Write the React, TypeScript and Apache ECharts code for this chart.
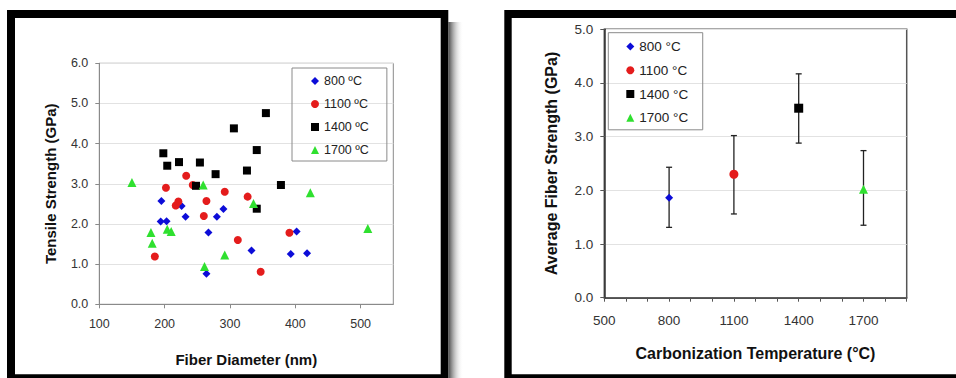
import React, { useEffect, useRef } from 'react';
import * as echarts from 'echarts';

const FONT = '"Liberation Sans", Arial, Helvetica, sans-serif';

// ---- Left chart: tensile strength vs fiber diameter ----
const namesLeft = ['800 ºC', '1100 ºC', '1400 ºC', '1700 ºC'];
const pts800: [number, number][] = [
  [195, 2.57], [194, 2.06], [203, 2.07], [226, 2.45], [232, 2.18], [267, 1.79], [264, 0.76],
  [280, 2.18], [290, 2.37], [333, 1.34], [393, 1.25], [402, 1.81], [418, 1.27],
];
const pts1100: [number, number][] = [
  [185, 1.19], [202, 2.9], [217, 2.46], [221, 2.56], [233, 3.2], [243, 2.97], [260, 2.2],
  [264, 2.57], [292, 2.8], [312, 1.6], [327, 2.68], [347, 0.81], [391, 1.78],
];
const pts1400: [number, number][] = [
  [198, 3.76], [204, 3.45], [222, 3.54], [248, 2.95], [254, 3.53], [278, 3.24], [306, 4.38],
  [326, 3.33], [341, 3.84], [341, 2.38], [355, 4.76], [378, 2.97],
];
const pts1700: [number, number][] = [
  [150, 3.03], [179, 1.79], [181, 1.52], [204, 1.87], [210, 1.81], [259, 2.97], [261, 0.94],
  [292, 1.23], [336, 2.51], [423, 2.78], [511, 1.89],
];
const xTicksLeft = [100, 200, 300, 400, 500];

// ---- Right chart: average strength vs carbonization temperature ----
const namesRight = ['800 °C', '1100 °C', '1400 °C', '1700 °C'];
const temps = [800, 1100, 1400, 1700];
const means = [1.86, 2.3, 3.53, 2.02];
const lows = [1.31, 1.56, 2.88, 1.35];
const highs = [2.43, 3.02, 4.17, 2.74];
const xLabelsRight = [500, 800, 1100, 1400, 1700];

const colors = ['#0c0cd8', '#e41c1c', '#000000', '#2fe02f'];
const symbols = ['diamond', 'circle', 'rect', 'triangle'];
const symbolSizesL = [8, 8, 8, 9];
const symbolSizesR = [8, 9, 9, 9];

export default function App() {
  const ref = useRef<HTMLDivElement>(null);

  useEffect(() => {
    if (!ref.current) return;
    const chart = echarts.init(ref.current, undefined, { renderer: 'svg' });
    const leftData = [pts800, pts1100, pts1400, pts1700];

    const option: any = {
      animation: false,
      backgroundColor: '#ffffff',
      textStyle: { fontFamily: FONT },
      graphic: {
        elements: [
          { type: 'rect', z: -10, silent: true, shape: { x: 7, y: 10, width: 441.3, height: 368 }, style: { fill: '#000' } },
          {
            type: 'rect', z: -10, silent: true, shape: { x: 448.3, y: 22, width: 15, height: 356 },
            style: {
              fill: new echarts.graphic.LinearGradient(0, 0, 1, 0, [
                { offset: 0, color: 'rgba(70,70,70,1)' },
                { offset: 1, color: 'rgba(255,255,255,0)' },
              ]),
            },
          },
          { type: 'rect', z: -9, silent: true, shape: { x: 15, y: 18, width: 425.7, height: 356.3 }, style: { fill: '#fff' } },
          { type: 'rect', z: -10, silent: true, shape: { x: 504.3, y: 10, width: 451.7, height: 368 }, style: { fill: '#000' } },
          { type: 'rect', z: -9, silent: true, shape: { x: 511.7, y: 18, width: 444.3, height: 356.3 }, style: { fill: '#fff' } },
        ],
      },
      grid: [
        { left: 99.3, top: 63.3, width: 294, height: 241, show: true, borderColor: '#8a8a8a', borderWidth: 1, backgroundColor: 'transparent' },
        { left: 604.3, top: 29.3, width: 302.4, height: 268.4, show: true, borderColor: '#555', borderWidth: 1.5, backgroundColor: 'transparent' },
      ],
      legend: [
        {
          data: namesLeft,
          orient: 'vertical',
          left: 292,
          top: 68,
          padding: [6, 18, 4, 19],
          borderColor: '#8a8a8a',
          borderWidth: 1,
          itemWidth: 8,
          itemHeight: 8,
          itemGap: 9,
          selectedMode: false,
          textStyle: { fontSize: 12.5, lineHeight: 14, color: '#222', fontFamily: FONT },
        },
        {
          data: namesRight,
          orient: 'vertical',
          left: 608.3,
          top: 32.7,
          padding: [6.2, 14.5, 4.5, 18],
          borderColor: '#8a8a8a',
          borderWidth: 1,
          itemWidth: 8,
          itemHeight: 8,
          itemGap: 8.8,
          selectedMode: false,
          textStyle: { fontSize: 13.5, lineHeight: 15, color: '#222', fontFamily: FONT },
        },
      ],
      xAxis: [
        {
          type: 'value',
          gridIndex: 0,
          min: 100,
          max: 550,
          interval: 100,
          axisLine: { show: true, lineStyle: { color: '#8a8a8a', width: 1 } },
          axisTick: { show: true, length: 4, lineStyle: { color: '#8a8a8a' }, customValues: xTicksLeft },
          axisLabel: { fontSize: 12.5, color: '#333', margin: 13, fontFamily: FONT, customValues: xTicksLeft },
          splitLine: { show: false },
          name: 'Fiber Diameter (nm)',
          nameLocation: 'middle',
          nameGap: 48,
          nameTextStyle: { fontSize: 15, fontWeight: 'bold', color: '#111', fontFamily: FONT },
        },
        {
          type: 'value',
          gridIndex: 1,
          min: 500,
          max: 1900,
          interval: 100,
          axisLine: { show: true, lineStyle: { color: '#333', width: 1.5 } },
          axisTick: { show: true, length: 4, lineStyle: { color: '#555' } },
          axisLabel: {
            fontSize: 13.5,
            color: '#333',
            margin: 16,
            fontFamily: FONT,
            formatter: (v: number) => (xLabelsRight.indexOf(v) >= 0 ? String(v) : ''),
          },
          splitLine: { show: false },
          name: 'Carbonization Temperature (°C)',
          nameLocation: 'middle',
          nameGap: 48,
          nameTextStyle: { fontSize: 16, fontWeight: 'bold', color: '#111', fontFamily: FONT },
        },
      ],
      yAxis: [
        {
          type: 'value',
          gridIndex: 0,
          min: 0,
          max: 6,
          interval: 1,
          axisLine: { show: true, lineStyle: { color: '#8a8a8a', width: 1 } },
          axisTick: { show: true, length: 4, lineStyle: { color: '#8a8a8a' } },
          axisLabel: { fontSize: 12.5, color: '#333', margin: 11, fontFamily: FONT, formatter: (v: number) => v.toFixed(1) },
          splitLine: { show: true, lineStyle: { color: '#e2e2e2', width: 1 } },
          name: 'Tensile Strength (GPa)',
          nameLocation: 'middle',
          nameGap: 41,
          nameTextStyle: { fontSize: 15, fontWeight: 'bold', color: '#111', fontFamily: FONT },
        },
        {
          type: 'value',
          gridIndex: 1,
          min: 0,
          max: 5,
          interval: 1,
          axisLine: { show: true, lineStyle: { color: '#333', width: 1.5 } },
          axisTick: { show: true, length: 4, lineStyle: { color: '#555' } },
          axisLabel: { fontSize: 13.5, color: '#333', margin: 11, fontFamily: FONT, formatter: (v: number) => v.toFixed(1) },
          splitLine: { show: true, lineStyle: { color: '#e2e2e2', width: 1 } },
          name: 'Average Fiber Strength (GPa)',
          nameLocation: 'middle',
          nameGap: 45,
          nameTextStyle: { fontSize: 16, fontWeight: 'bold', color: '#111', fontFamily: FONT },
        },
      ],
      series: [
        ...namesLeft.map((n, i) => ({
          type: 'scatter',
          name: n,
          xAxisIndex: 0,
          yAxisIndex: 0,
          symbol: symbols[i],
          symbolSize: symbolSizesL[i],
          itemStyle: { color: colors[i], opacity: 1 },
          data: leftData[i],
          z: 3,
        })),
        {
          type: 'custom',
          name: 'error',
          xAxisIndex: 1,
          yAxisIndex: 1,
          z: 2,
          silent: true,
          encode: { x: 0, y: [1, 2] },
          data: temps.map((t, i) => [t, lows[i], highs[i]]),
          renderItem: (_params: any, api: any) => {
            const x = api.value(0);
            const pLo = api.coord([x, api.value(1)]);
            const pHi = api.coord([x, api.value(2)]);
            const cap = 3;
            const style = { stroke: '#222', lineWidth: 1.3 };
            return {
              type: 'group',
              children: [
                { type: 'line', shape: { x1: pLo[0], y1: pLo[1], x2: pHi[0], y2: pHi[1] }, style },
                { type: 'line', shape: { x1: pLo[0] - cap, y1: pLo[1], x2: pLo[0] + cap, y2: pLo[1] }, style },
                { type: 'line', shape: { x1: pHi[0] - cap, y1: pHi[1], x2: pHi[0] + cap, y2: pHi[1] }, style },
              ],
            };
          },
        },
        ...namesRight.map((n, i) => ({
          type: 'scatter',
          name: n,
          xAxisIndex: 1,
          yAxisIndex: 1,
          symbol: symbols[i],
          symbolSize: symbolSizesR[i],
          itemStyle: { color: colors[i], opacity: 1 },
          data: [[temps[i], means[i]]],
          z: 4,
        })),
      ],
    };

    chart.setOption(option);
    return () => chart.dispose();
  }, []);

  return (
    <div
      ref={ref}
      style={{ position: 'fixed', left: 0, top: 0, width: 956, height: 378, background: '#fff' }}
    />
  );
}
